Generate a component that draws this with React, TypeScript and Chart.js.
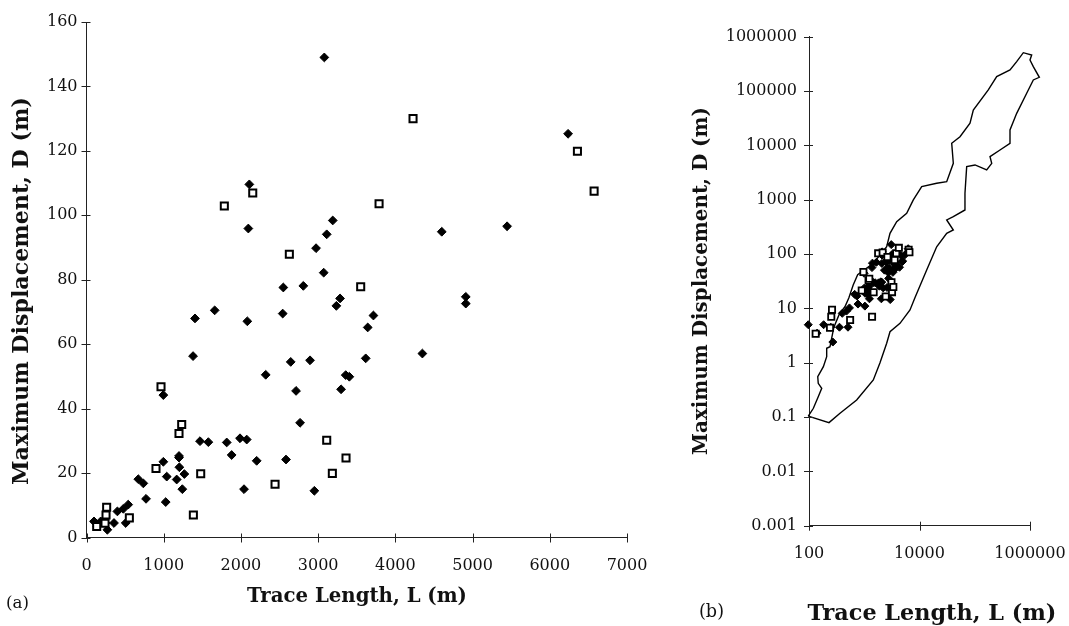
import { useEffect, useRef } from "react";
import { Chart, registerables } from "chart.js";

Chart.register(...registerables);

// ---------- data (Trace length L [m], Maximum displacement D [m]) ----------
const diamondL = [97, 140, 184, 248, 270, 356, 400, 477, 540, 508, 671, 736, 771, 995, 995, 1026, 1039, 1168, 1198, 1198, 1203, 1267, 1241, 1380, 1405, 1470, 1578, 1660, 1816, 1880, 1988, 2075, 2040, 2083, 2096, 2109, 2204, 2321, 2541, 2549, 2584, 2645, 2714, 2766, 2808, 2895, 2951, 2973, 3072, 3080, 3111, 3189, 3236, 3284, 3297, 3357, 3404, 3616, 3642, 3716, 4350, 4601, 4912, 4912, 5447, 6237];
const diamondD = [5.0, 3.5, 5.0, 4.5, 2.4, 4.5, 8.1, 8.9, 10.2, 4.5, 18.1, 16.8, 12.0, 44.2, 23.5, 11.0, 18.9, 18.0, 25.3, 24.8, 21.8, 19.7, 15.0, 56.3, 68.0, 29.9, 29.6, 70.5, 29.5, 25.6, 30.8, 30.4, 15.0, 67.1, 95.9, 109.6, 23.8, 50.5, 69.5, 77.6, 24.2, 54.5, 45.5, 35.6, 78.1, 55.0, 14.5, 89.8, 82.2, 149, 94.1, 98.4, 71.9, 74.2, 46.0, 50.4, 49.9, 55.6, 65.2, 68.9, 57.1, 94.9, 74.7, 72.6, 96.6, 125.3];

const squareL = [132, 240, 253, 261, 555, 900, 965, 1198, 1233, 1384, 1479, 1785, 2153, 2442, 2627, 3111, 3184, 3361, 3551, 3789, 4229, 6358, 6574];
const squareD = [3.4, 4.4, 7.0, 9.4, 6.1, 21.4, 46.8, 32.3, 35.1, 7.0, 19.8, 102.9, 106.9, 16.5, 87.9, 30.2, 19.9, 24.7, 77.8, 103.6, 130.0, 119.9, 107.5];

// envelope of published data (panel b), traced around the outline
const envelopeL = [97, 230, 364, 729, 1459, 1928, 2547, 2924, 4436, 6730, 8300, 13490, 20460, 31050, 40930, 31050, 40930, 66530, 66530, 71450, 101200, 164400, 202800, 188800, 286400, 434500, 434500, 574100, 871000, 1148000, 1476000, 1148000, 1000000, 1072000, 756800, 574100, 434500, 249500, 175800, 94190, 82040, 54080, 38280, 40930, 31050, 20460, 10960, 7727, 5861, 3864, 2924, 2547, 1459, 760, 631, 525, 447, 355, 282, 251, 240, 209, 209, 182, 144, 147, 170, 147, 120, 97];
const envelopeD = [0.104, 0.079, 0.117, 0.206, 0.481, 1.0, 2.28, 3.72, 5.31, 9.33, 15.8, 50.8, 136, 241, 277, 424, 488, 647, 1312, 4055, 4355, 3524, 4677, 6194, 8222, 10910, 19190, 38900, 91000, 160000, 179000, 281000, 373000, 461000, 508000, 346700, 244300, 184100, 104700, 44770, 25530, 14450, 10910, 4677, 2148, 2004, 1738, 989, 562, 394, 241, 136, 67.6, 41.7, 26.9, 15.5, 10.7, 7.9, 4.5, 2.5, 1.97, 1.84, 1.29, 0.845, 0.552, 0.418, 0.338, 0.237, 0.145, 0.104];

const linXTicks = [0, 1000, 2000, 3000, 4000, 5000, 6000, 7000];
const linYTicks = [0, 20, 40, 60, 80, 100, 120, 140, 160];
const logXTicks = [100, 10000, 1000000];
const logYTicks = [0.001, 0.01, 0.1, 1, 10, 100, 1000, 10000, 100000, 1000000];

const xTitle = "Trace Length, L (m)";
const yTitle = "Maximum Displacement, D (m)";

const SERIF = "'DejaVu Serif', 'Liberation Serif', serif";
const INK = "#111";

function pts(xs: number[], ys: number[]) {
  return xs.map((x, i) => ({ x, y: ys[i] }));
}

type TextSpec = { text: string; x: number; y: number; width: number; rot?: boolean; bold?: boolean; align?: CanvasTextAlign };

function fitText(ctx: CanvasRenderingContext2D, t: TextSpec) {
  const w = t.bold ? "bold" : "normal";
  ctx.font = `${w} 20px ${SERIF}`;
  const m = ctx.measureText(t.text).width;
  const size = (20 * t.width) / m;
  ctx.font = `${w} ${size}px ${SERIF}`;
  ctx.fillStyle = INK;
  ctx.textBaseline = "middle";
  ctx.textAlign = t.align || "center";
  ctx.save();
  ctx.translate(t.x, t.y);
  if (t.rot) ctx.rotate(-Math.PI / 2);
  ctx.fillText(t.text, 0, 0);
  ctx.restore();
}

function decor(xTicks: number[], yTicks: number[], texts: TextSpec[]) {
  return {
    id: "decor",
    afterDraw(chart: any) {
      const { ctx } = chart;
      const xs = chart.scales.x;
      const ys = chart.scales.y;
      ctx.save();
      ctx.strokeStyle = "#222";
      ctx.lineWidth = 1;
      ctx.beginPath();
      xTicks.forEach((v) => {
        const px = Math.round(xs.getPixelForValue(v)) + 0.5;
        ctx.moveTo(px, ys.bottom - 4);
        ctx.lineTo(px, ys.bottom + 5);
      });
      yTicks.forEach((v) => {
        const py = Math.round(ys.getPixelForValue(v)) + 0.5;
        ctx.moveTo(xs.left - 5, py);
        ctx.lineTo(xs.left + 4, py);
      });
      ctx.stroke();
      texts.forEach((t) => fitText(ctx, t));
      ctx.restore();
    },
  };
}

function fmt(v: number) {
  return String(v);
}

function fixX(h: number) {
  return (s: any) => {
    s.height = h;
    s.paddingLeft = 0;
    s.paddingRight = 0;
  };
}
function fixY(w: number) {
  return (s: any) => {
    s.width = w;
    s.paddingTop = 0;
    s.paddingBottom = 0;
  };
}

export default function App() {
  const leftRef = useRef<HTMLCanvasElement>(null);
  const rightRef = useRef<HTMLCanvasElement>(null);

  useEffect(() => {
    const tickFont = { family: SERIF, size: 16 };
    const diamondStyle = {
      pointStyle: "rectRot",
      pointRadius: 4.4,
      pointBackgroundColor: "#000",
      pointBorderColor: "#000",
      pointBorderWidth: 1,
      showLine: false,
    };
    const squareStyle = {
      pointStyle: "rect",
      pointRadius: 5,
      pointBackgroundColor: "#fff",
      pointBorderColor: "#000",
      pointBorderWidth: 2,
      showLine: false,
    };

    const left = new Chart(leftRef.current!, {
      type: "scatter",
      data: {
        datasets: [
          { label: "squares", data: pts(squareL, squareD), order: 1, clip: false, ...squareStyle } as any,
          { label: "diamonds", data: pts(diamondL, diamondD), order: 2, clip: false, ...diamondStyle } as any,
        ],
      },
      options: {
        animation: false,
        responsive: false,
        events: [],
        layout: { padding: { left: 0, top: 22, right: 23, bottom: 0 } },
        plugins: { legend: { display: false }, tooltip: { enabled: false } },
        scales: {
          x: {
            type: "linear",
            min: 0,
            max: 7000,
            afterFit: fixX(88.5),
            afterBuildTicks: (s: any) => { s.ticks = linXTicks.map((value) => ({ value })); },
            grid: { display: true, drawOnChartArea: false, drawTicks: false },
            border: { display: true, color: "#222", width: 1 },
            ticks: { font: tickFont, color: INK, padding: 19, maxRotation: 0, autoSkip: false, callback: (v: any) => fmt(v) },
          },
          y: {
            type: "linear",
            min: 0,
            max: 160,
            afterFit: fixY(86.5),
            afterBuildTicks: (s: any) => { s.ticks = linYTicks.map((value) => ({ value })); },
            grid: { display: true, drawOnChartArea: false, drawTicks: false },
            border: { display: true, color: "#222", width: 1 },
            ticks: { font: tickFont, color: INK, padding: 9, autoSkip: false, callback: (v: any) => fmt(v) },
          },
        },
      },
      plugins: [
        decor(linXTicks, linYTicks, [
          { text: xTitle, x: 357, y: 597, width: 220, bold: true },
          { text: yTitle, x: 22, y: 291, width: 388, bold: true, rot: true },
          { text: "(a)", x: 6, y: 604, width: 23, align: "left" },
        ]),
      ],
    } as any);

    const right = new Chart(rightRef.current!, {
      type: "scatter",
      data: {
        datasets: [
          { label: "squares", data: pts(squareL, squareD), order: 1, clip: false, ...squareStyle, pointRadius: 4.4, pointBorderWidth: 1.8 } as any,
          { label: "diamonds", data: pts(diamondL, diamondD), order: 2, clip: false, ...diamondStyle, pointRadius: 4 } as any,
          {
            type: "line",
            label: "envelope",
            data: pts(envelopeL, envelopeD),
            order: 3,
            clip: false,
            showLine: true,
            fill: false,
            tension: 0,
            pointRadius: 0,
            borderColor: "#000",
            borderWidth: 1.4,
          } as any,
        ],
      },
      options: {
        animation: false,
        responsive: false,
        events: [],
        layout: { padding: { left: 0, top: 36.7, right: 39, bottom: 0 } },
        plugins: { legend: { display: false }, tooltip: { enabled: false } },
        scales: {
          x: {
            type: "logarithmic",
            min: 100,
            max: 1000000,
            afterFit: fixX(100.3),
            afterBuildTicks: (s: any) => { s.ticks = logXTicks.map((value) => ({ value, major: true })); },
            grid: { display: true, drawOnChartArea: false, drawTicks: false },
            border: { display: true, color: "#222", width: 1 },
            ticks: { font: tickFont, color: INK, padding: 19, maxRotation: 0, autoSkip: false, callback: (v: any) => fmt(v) },
          },
          y: {
            type: "logarithmic",
            min: 0.001,
            max: 1000000,
            afterFit: fixY(159),
            afterBuildTicks: (s: any) => { s.ticks = logYTicks.map((value) => ({ value, major: true })); },
            grid: { display: true, drawOnChartArea: false, drawTicks: false },
            border: { display: true, color: "#222", width: 1 },
            ticks: { font: tickFont, color: INK, padding: 12, autoSkip: false, callback: (v: any) => fmt(v) },
          },
        },
      },
      plugins: [
        decor(logXTicks, logYTicks, [
          { text: xTitle, x: 282, y: 614, width: 249, bold: true },
          { text: yTitle, x: 52, y: 281, width: 348, bold: true, rot: true },
          { text: "(b)", x: 49, y: 612, width: 25, align: "left" },
        ]),
      ],
    } as any);

    return () => {
      left.destroy();
      right.destroy();
    };
  }, []);

  return (
    <div style={{ position: "fixed", left: 0, top: 0, width: 1069, height: 626, background: "#fff", overflow: "hidden" }}>
      <canvas ref={leftRef} width={650} height={626} style={{ position: "absolute", left: 0, top: 0, width: 650, height: 626 }} />
      <canvas ref={rightRef} width={419} height={626} style={{ position: "absolute", left: 650, top: 0, width: 419, height: 626 }} />
    </div>
  );
}
